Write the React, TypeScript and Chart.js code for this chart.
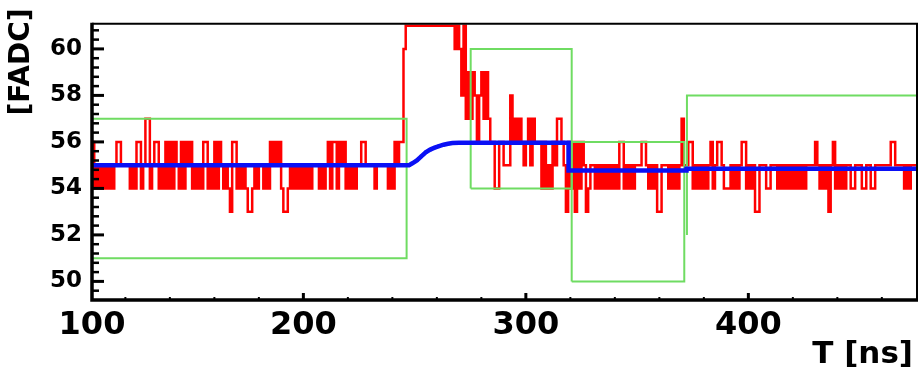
import React, { useEffect, useRef } from "react";
import { Chart, registerables } from "chart.js";

Chart.register(...registerables);

// FADC trace, one sample per ns starting at SAMPLE_START_NS
const SAMPLE_START_NS = 105;

// 105 – 245 ns: baseline before the pulse
const baselineBefore = [
  56, 56, 54, 55, 54, 55, 54, 55, 54, 55,
  54, 55, 56, 56, 55, 55, 55, 55, 54, 55,
  54, 56, 56, 54, 55, 57, 57, 54, 55, 56,
  56, 54, 55, 54, 56, 54, 56, 54, 56, 55,
  54, 56, 54, 56, 55, 56, 54, 55, 54, 55,
  54, 56, 56, 54, 55, 54, 56, 54, 56, 55,
  54, 55, 54, 53, 56, 56, 54, 55, 54, 55,
  54, 53, 53, 54, 55, 54, 55, 55, 54, 55,
  54, 56, 55, 56, 55, 56, 54, 53, 53, 54,
  55, 54, 55, 54, 55, 54, 55, 54, 55, 54,
  55, 55, 55, 54, 55, 54, 55, 56, 54, 56,
  56, 54, 56, 55, 56, 54, 55, 54, 55, 54,
  55, 55, 56, 56, 55, 55, 55, 55, 54, 55,
  55, 55, 55, 55, 54, 55, 54, 56, 55, 56,
  56,
];

// 246 – 319 ns: pulse (off-scale part shown at the top of the axis) and tail
const pulse = [
  60, 61, 61, 61, 61, 61, 61, 61, 61, 61,
  61, 61, 61, 61, 61, 61, 61, 61, 61, 61,
  61, 61, 61, 60, 61, 60, 58, 61, 57, 59,
  57, 59, 58, 56, 58, 59, 57, 59, 57, 56,
  56, 54, 54, 56, 56, 55, 55, 55, 58, 56,
  57, 56, 57, 56, 55, 56, 57, 55, 57, 56,
  56, 56, 54, 56, 54, 55, 54, 56, 55, 57,
  57, 56, 55, 53,
];

// 320 – 476 ns: baseline after the pulse
const baselineAfter = [
  56, 54, 56, 53, 56, 54, 56, 55, 53, 54,
  55, 55, 54, 55, 54, 55, 54, 55, 54, 55,
  54, 55, 54, 56, 56, 54, 55, 54, 55, 54,
  55, 55, 55, 56, 56, 55, 54, 55, 54, 55,
  53, 53, 55, 55, 55, 54, 55, 54, 55, 54,
  55, 57, 55, 55, 56, 56, 54, 55, 54, 55,
  54, 55, 54, 55, 56, 54, 55, 56, 56, 55,
  54, 54, 54, 55, 54, 55, 54, 55, 56, 56,
  54, 55, 54, 55, 53, 53, 55, 55, 55, 54,
  54, 55, 55, 55, 54, 55, 54, 55, 54, 55,
  54, 55, 54, 55, 54, 55, 54, 55, 55, 55,
  55, 56, 55, 54, 55, 54, 55, 53, 55, 56,
  54, 55, 54, 55, 54, 55, 55, 54, 54, 55,
  55, 55, 54, 54, 55, 55, 54, 54, 55, 55,
  55, 55, 55, 55, 55, 56, 56, 55, 55, 55,
  55, 54, 55, 54, 55, 55, 55,
];

// Baseline fit (blue)
const fitTime = [105, 247.5, 249, 251, 253, 255, 257, 259, 261, 263, 265, 267, 270, 319.2, 319.2, 372.2, 372.2, 476];
const fitValue = [55.0, 55.0, 55.08, 55.2, 55.38, 55.55, 55.67, 55.75, 55.82, 55.88, 55.92, 55.95, 55.96, 55.96, 54.77, 54.77, 54.85, 54.85];

// Acceptance windows (green)
const windowStart = [105, 275.2, 320.6, 372.4];
const windowEnd = [246.4, 320.6, 371.2, 476];
const windowLow = [51, 54, 50, 52];
const windowHigh = [57, 60, 56, 58];

// Axis labels
const xTickValues = [105, 200, 300, 400];
const xTickLabels = ["100", "200", "300", "400"];
const yTickValues = [50, 52, 54, 56, 58, 60];

const X_MIN = 105;
const X_MAX = 475.8;
const Y_MIN = 49.2;
const Y_MAX = 61.08;
const X_MINOR_STEP = 20;
const Y_MINOR_STEP = 0.4;

const FONT = "'DejaVu Sans', 'Liberation Sans', sans-serif";

const framePlugin = {
  id: "frameAndTicks",
  afterDatasetsDraw(chart: any) {
    const { ctx, chartArea: a } = chart;
    const xs = chart.scales.x;
    const ys = chart.scales.y;
    ctx.save();
    ctx.strokeStyle = "#000";
    ctx.lineCap = "butt";

    // inward tick marks on the left axis
    for (let v = Y_MIN + Y_MINOR_STEP; v < Y_MAX; v += Y_MINOR_STEP) {
      const r = Math.round(v * 10) / 10;
      const major = Math.abs(r / 2 - Math.round(r / 2)) < 1e-6;
      const py = ys.getPixelForValue(r);
      ctx.lineWidth = major ? 3 : 2.5;
      ctx.beginPath();
      ctx.moveTo(a.left, py);
      ctx.lineTo(a.left + (major ? 12 : 7), py);
      ctx.stroke();
    }
    // inward tick marks on the bottom axis
    for (let v = 120; v < X_MAX; v += X_MINOR_STEP) {
      const major = v % 100 === 0;
      const px = xs.getPixelForValue(v);
      ctx.lineWidth = major ? 3 : 2;
      ctx.beginPath();
      ctx.moveTo(px, a.bottom);
      ctx.lineTo(px, a.bottom - (major ? 7 : 3));
      ctx.stroke();
    }

    // frame
    ctx.lineWidth = 2;
    ctx.beginPath();
    ctx.moveTo(a.left, a.top);
    ctx.lineTo(a.right, a.top);
    ctx.lineTo(a.right, a.bottom);
    ctx.stroke();
    ctx.lineWidth = 3.5;
    ctx.beginPath();
    ctx.moveTo(a.left, a.top - 1);
    ctx.lineTo(a.left, a.bottom);
    ctx.lineTo(a.right + 1, a.bottom);
    ctx.stroke();

    // axis titles
    ctx.fillStyle = "#000";
    ctx.font = `bold 31px ${FONT}`;
    ctx.textAlign = "right";
    ctx.textBaseline = "alphabetic";
    ctx.fillText("T [ns]", 913, 363);

    ctx.translate(21.5, 62);
    ctx.rotate(-Math.PI / 2);
    ctx.font = `bold 28px ${FONT}`;
    ctx.textAlign = "center";
    ctx.textBaseline = "middle";
    ctx.fillText("[FADC]", 0, 0);
    ctx.restore();
  },
};

export default function App() {
  const canvasRef = useRef<HTMLCanvasElement | null>(null);

  useEffect(() => {
    const canvas = canvasRef.current;
    if (!canvas) return;

    const samples = [...baselineBefore, ...pulse, ...baselineAfter];
    const trace = samples.map((v, i) => ({ x: SAMPLE_START_NS + i, y: v }));
    const fit = fitTime.map((t, i) => ({ x: t, y: fitValue[i] }));
    const windows = windowStart.map((s, i) => {
      const e = windowEnd[i];
      const lo = windowLow[i];
      const hi = windowHigh[i];
      return {
        data: [
          { x: s, y: lo },
          { x: s, y: hi },
          { x: e, y: hi },
          { x: e, y: lo },
          { x: s, y: lo },
        ],
        borderColor: "#6fdc62",
        borderWidth: 2,
        pointRadius: 0,
        tension: 0,
      };
    });

    const chart = new Chart(canvas, {
      type: "line",
      data: {
        datasets: [
          {
            data: fit,
            borderColor: "#0a10f5",
            backgroundColor: "#0a10f5",
            borderWidth: 4.5,
            pointStyle: "rect",
            pointRadius: (c: any) => (c.dataIndex >= 1 && c.dataIndex <= 12 ? 2.2 : 0),
            pointBorderWidth: 0,
            tension: 0,
          },
          ...windows,
          {
            data: trace,
            borderColor: "#ff0000",
            borderWidth: 2.5,
            pointRadius: 0,
            stepped: "after",
            borderJoinStyle: "miter",
            clip: 3,
          },
        ],
      },
      options: {
        animation: false,
        responsive: false,
        devicePixelRatio: 1,
        parsing: false,
        normalized: true,
        layout: { padding: { top: 3, right: 4, left: 0, bottom: 0 } },
        plugins: { legend: { display: false }, tooltip: { enabled: false } },
        scales: {
          x: {
            type: "linear",
            min: X_MIN,
            max: X_MAX,
            grid: { display: false, drawTicks: false },
            border: { display: false },
            afterBuildTicks: (s: any) => {
              s.ticks = xTickValues.map((v) => ({ value: v }));
            },
            afterFit: (s: any) => {
              s.height = 71;
            },
            ticks: {
              autoSkip: false,
              maxRotation: 0,
              padding: 6,
              color: "#000",
              font: { family: FONT, size: 32, weight: "bold" },
              callback: (_v: any, i: number) => xTickLabels[i],
            },
          },
          y: {
            type: "linear",
            min: Y_MIN,
            max: Y_MAX,
            grid: { display: false, drawTicks: false },
            border: { display: false },
            afterBuildTicks: (s: any) => {
              s.ticks = yTickValues.map((v) => ({ value: v }));
            },
            afterFit: (s: any) => {
              s.width = 92;
            },
            ticks: {
              padding: 10,
              color: "#000",
              font: { family: FONT, size: 23, weight: "bold" },
              callback: (v: any) => String(v),
            },
          },
        },
      },
      plugins: [framePlugin],
    });

    return () => chart.destroy();
  }, []);

  return (
    <div style={{ position: "absolute", left: 0, top: 0, width: 921, height: 371, background: "#fff" }}>
      <canvas ref={canvasRef} width={921} height={371} style={{ display: "block" }} />
    </div>
  );
}
